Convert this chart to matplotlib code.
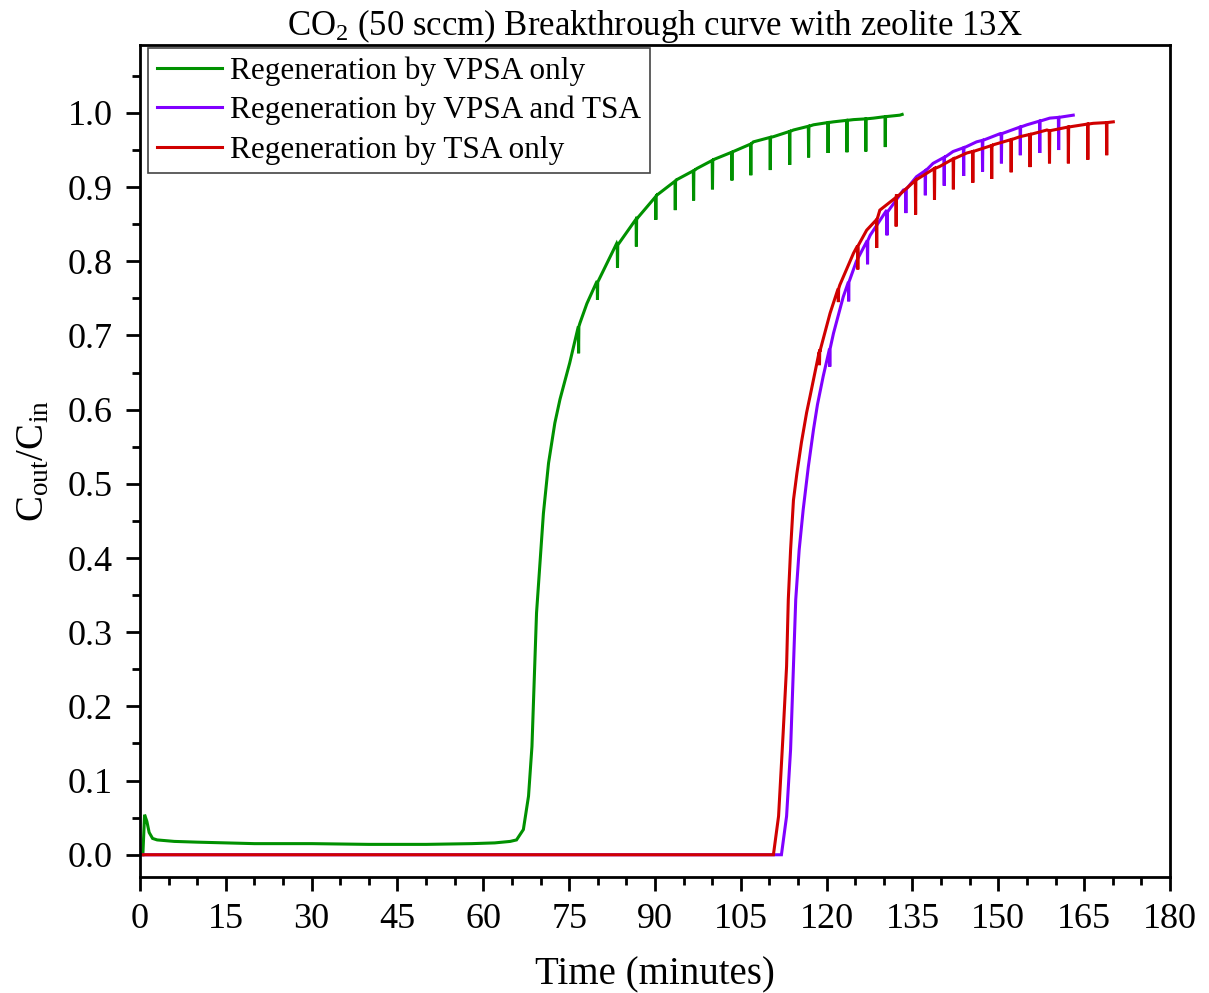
import matplotlib
matplotlib.use("Agg")
import matplotlib.pyplot as plt
from matplotlib.ticker import MultipleLocator

plt.rcParams['font.family'] = ['Liberation Serif', 'DejaVu Serif']
plt.rcParams['mathtext.fontset'] = 'custom'
plt.rcParams['mathtext.rm'] = 'Liberation Serif'
plt.rcParams['mathtext.it'] = 'Liberation Serif:italic'

# ---------------- data ----------------
labels = ["Regeneration by VPSA only", "Regeneration by VPSA and TSA", "Regeneration by TSA only"]
colors = ["#009100", "#8000FF", "#D00000"]

# green: VPSA only
vpsa_t = [0.5, 0.8, 1.2, 1.6, 2.2, 3, 6, 10, 20, 30, 40, 50, 58, 62, 64.7, 65.8, 67.0, 67.9, 68.5, 68.9,
          69.3, 69.9, 70.5, 71.4, 72.5, 73.4, 74.3, 75.1, 76.9, 78.1, 79.8, 83.3, 86.8, 90.3, 93.8, 97.3,
          100.2, 103.7, 107.2, 110.7, 114.2, 117.7, 121.2, 124.7, 128.2, 132.8, 133.2]
vpsa_c = [0.0, 0.054, 0.045, 0.030, 0.022, 0.020, 0.018, 0.017, 0.015, 0.015, 0.014, 0.014, 0.015, 0.016,
          0.018, 0.020, 0.034, 0.079, 0.146, 0.236, 0.326, 0.393, 0.460, 0.528, 0.582, 0.614, 0.640, 0.663,
          0.717, 0.743, 0.772, 0.824, 0.860, 0.889, 0.910, 0.925, 0.937, 0.948, 0.961, 0.968, 0.977, 0.984,
          0.988, 0.991, 0.993, 0.997, 0.998]
vpsa_dip_t = [76.6, 79.9, 83.4, 86.7, 90.1, 93.5, 96.7, 100.0, 103.4, 106.7, 110.1, 113.5, 116.8, 120.2,
              123.5, 126.8, 130.2]
vpsa_dip_top = [0.712, 0.772, 0.822, 0.857, 0.887, 0.908, 0.922, 0.936, 0.947, 0.958, 0.967, 0.975, 0.982,
                0.987, 0.990, 0.992, 0.995]
vpsa_dip_bot = [0.676, 0.748, 0.791, 0.820, 0.856, 0.869, 0.882, 0.897, 0.909, 0.916, 0.923, 0.930, 0.940,
                0.946, 0.947, 0.948, 0.954]

# purple: VPSA and TSA
both_t = [0, 112.1, 113.0, 113.7, 114.2, 114.6, 115.2, 115.9, 116.8, 117.7, 118.4, 119.4, 121.2, 122.9,
          125.2, 127.6, 130.5, 133.4, 135.7, 138.6, 142.1, 146.2, 150.3, 155.0, 159.0, 163.1]
both_c = [0.0, 0.0, 0.052, 0.142, 0.254, 0.344, 0.411, 0.465, 0.523, 0.573, 0.607, 0.645, 0.703, 0.752,
          0.800, 0.835, 0.869, 0.896, 0.914, 0.932, 0.948, 0.961, 0.972, 0.984, 0.993, 0.997]
both_dip_t = [120.5, 123.8, 127.1, 130.5, 133.8, 137.2, 140.5, 143.9, 147.2, 150.5, 153.8, 157.2, 160.5]
both_dip_top = [0.682, 0.772, 0.828, 0.866, 0.897, 0.922, 0.940, 0.953, 0.963, 0.972, 0.981, 0.989, 0.994]
both_dip_bot = [0.658, 0.746, 0.796, 0.835, 0.865, 0.889, 0.902, 0.915, 0.921, 0.932, 0.943, 0.946, 0.950]

# red: TSA only
tsa_t = [0, 110.7, 111.6, 112.4, 113.0, 113.3, 113.7, 114.2, 114.8, 115.6, 116.5, 117.1, 118.8, 120.6,
         122.3, 124.7, 127.0, 129.3, 132.2, 135.7, 139.8, 144.5, 149.1, 153.8, 158.5, 163.1, 166.6, 170.1]
tsa_c = [0.0, 0.0, 0.052, 0.164, 0.254, 0.344, 0.411, 0.478, 0.514, 0.556, 0.596, 0.618, 0.681, 0.730,
         0.768, 0.811, 0.842, 0.869, 0.890, 0.910, 0.928, 0.946, 0.957, 0.968, 0.977, 0.982, 0.986, 0.988]
tsa_dip_t = [118.7, 122.0, 125.4, 128.7, 132.1, 135.5, 138.8, 142.1, 145.5, 148.8, 152.2, 155.5, 158.9,
             162.2, 165.6, 168.9]
tsa_dip_top = [0.678, 0.763, 0.821, 0.856, 0.886, 0.909, 0.925, 0.938, 0.948, 0.956, 0.964, 0.971, 0.976,
               0.981, 0.985, 0.987]
tsa_dip_bot = [0.660, 0.745, 0.789, 0.818, 0.847, 0.863, 0.883, 0.897, 0.906, 0.911, 0.920, 0.927, 0.932,
               0.932, 0.937, 0.943]

x_ticks = list(range(0, 181, 15))
y_ticks = [round(0.1 * i, 1) for i in range(11)]


def merge(t, c, dt, dtop, dbot):
    pts = list(zip(t, c))
    for a, top, bot in zip(dt, dtop, dbot):
        pts += [(a, top), (a + 0.05, bot), (a + 0.1, top)]
    pts.sort(key=lambda p: p[0])
    return [p[0] for p in pts], [p[1] for p in pts]


series = [
    merge(vpsa_t, vpsa_c, vpsa_dip_t, vpsa_dip_top, vpsa_dip_bot),
    merge(both_t, both_c, both_dip_t, both_dip_top, both_dip_bot),
    merge(tsa_t, tsa_c, tsa_dip_t, tsa_dip_top, tsa_dip_bot),
]

# ---------------- figure ----------------
fig = plt.figure(figsize=(12.09, 9.93), dpi=100)
ax = fig.add_axes([0.1158, 0.1168, 0.8519, 0.8379])

for (xs, ys), lab, col in zip(series, labels, colors):
    ax.plot(xs, ys, color=col, lw=2.2, label=lab, solid_joinstyle='miter')

ax.set_xlim(0, 180)
ax.set_ylim(-0.03, 1.0916)
ax.set_xticks(x_ticks)
ax.set_yticks(y_ticks)
ax.set_yticklabels([f"{v:.1f}" for v in y_ticks])
ax.xaxis.set_minor_locator(MultipleLocator(5))
ax.yaxis.set_minor_locator(MultipleLocator(0.05))
ax.tick_params(which='major', direction='out', length=10, width=2, labelsize=26,
               top=False, right=False)
ax.tick_params(axis='x', which='major', pad=8.5)
ax.tick_params(axis='y', which='major', pad=9.5)
ax.tick_params(which='minor', direction='out', length=5.5, width=2, top=False, right=False)
for s in ax.spines.values():
    s.set_linewidth(2)

ax.set_xlabel("Time (minutes)", fontsize=28, labelpad=15)
ax.set_ylabel(r"C$_{\mathrm{out}}$/C$_{\mathrm{in}}$", fontsize=28, labelpad=11.5)
ax.set_title(r"CO$_2$ (50 sccm) Breakthrough curve with zeolite 13X", fontsize=25, pad=5)

leg = ax.legend(loc='upper left', bbox_to_anchor=(8 / 1030, 1 - 3 / 832), borderaxespad=0,
                fontsize=22.5, frameon=True, fancybox=False, handlelength=2.1,
                handletextpad=0.25, borderpad=0.28, labelspacing=0.31)
leg.get_frame().set_edgecolor('#444444')
leg.get_frame().set_linewidth(1.2)
leg.get_frame().set_alpha(1)

fig.savefig("out.png", dpi=100)
